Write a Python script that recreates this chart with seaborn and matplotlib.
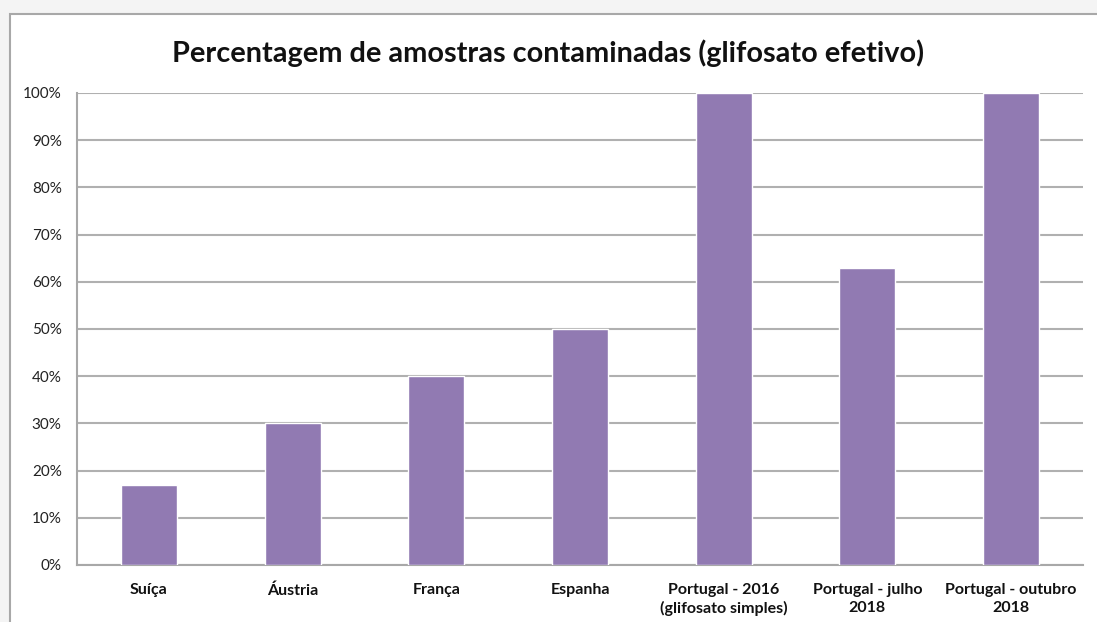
import pandas as pd
import matplotlib.pyplot as plt
import seaborn as sns
from matplotlib.patches import Rectangle
from matplotlib.ticker import PercentFormatter

# Data
paises = ["Suíça", "Áustria", "França", "Espanha",
          "Portugal - 2016\n(glifosato simples)", "Portugal - julho\n2018",
          "Portugal - outubro\n2018"]
percentagem = [17, 30, 40, 50, 100, 63, 100]

df = pd.DataFrame({"pais": paises, "pct": percentagem})

sns.set_style("white")
plt.rcParams['font.family'] = ['Lato', 'DejaVu Sans']

fig = plt.figure(figsize=(10.97, 6.22), dpi=100, facecolor="#f4f4f4")
# white chart frame, drawn behind the axes
fig.patches.append(Rectangle((10 / 1097, -0.02), 1.0, 1 - 14 / 622 + 0.02,
                             transform=fig.transFigure, facecolor="white",
                             edgecolor="#a8a8a8", linewidth=1.5, zorder=-10))

ax = fig.add_axes([77 / 1097, 1 - 565 / 622, (1083 - 77) / 1097, (565 - 93) / 622])
ax.set_facecolor("none")

sns.barplot(data=df, x="pais", y="pct", color="#917ab2", width=0.39,
            saturation=1, ax=ax, zorder=3)

ax.set_ylim(0, 100)
ax.set_xlim(-0.5, len(paises) - 0.5)
ax.set_yticks(range(0, 101, 10))
ax.yaxis.set_major_formatter(PercentFormatter(decimals=0))
ax.grid(axis="y", color="#b0b0b0", linewidth=1.5, zorder=0)
ax.set_axisbelow(True)

for s in ["top", "right"]:
    ax.spines[s].set_visible(False)
for s in ["left", "bottom"]:
    ax.spines[s].set_color("#a8a8a8")
    ax.spines[s].set_linewidth(1.5)

ax.set_xticks([i - 0.5 for i in range(len(paises) + 1)], minor=True)
ax.tick_params(axis="x", which="major", length=0, pad=13)
ax.tick_params(axis="x", which="minor", length=5, width=1.5, color="#a8a8a8")
ax.tick_params(axis="y", length=5, width=1.5, color="#a8a8a8", pad=6)
ax.set_xticklabels(paises, fontsize=11.5, fontweight="bold", color="#111111",
                   linespacing=1.35)
for lbl in ax.get_yticklabels():
    lbl.set_fontsize(11)
    lbl.set_color("#222222")

ax.set_xlabel("")
ax.set_ylabel("")
fig.text(0.5, 1 - 53 / 622, "Percentagem de amostras contaminadas (glifosato efetivo)",
         ha="center", va="center", fontsize=20.8, fontweight="bold", color="#111111")

fig.savefig("out.png", dpi=100, facecolor=fig.get_facecolor())
